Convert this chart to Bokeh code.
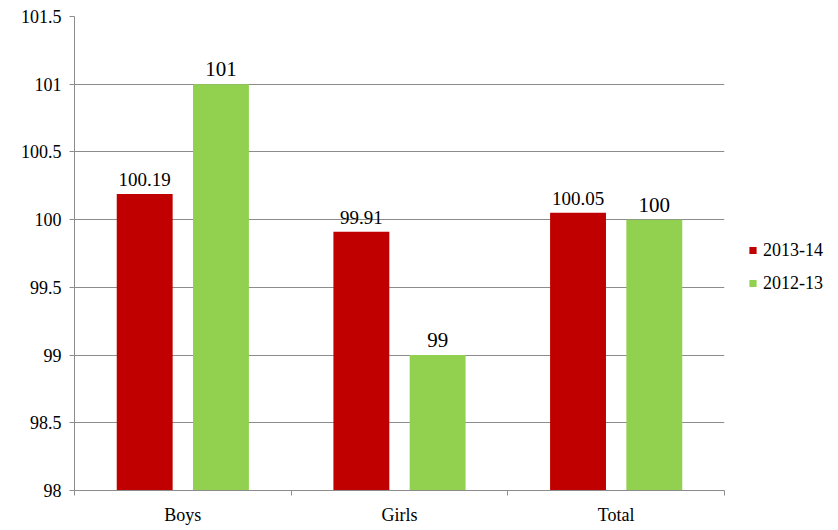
from bokeh.plotting import figure
from bokeh.models import ColumnDataSource, Range1d, FixedTicker, Legend, LegendItem
from bokeh.core.properties import value
from bokeh.embed import file_html
from bokeh.resources import INLINE

categories = ["Boys", "Girls", "Total"]
series_2013_14 = [100.19, 99.91, 100.05]
series_2012_13 = [101, 99, 100]
labels_2013_14 = ["100.19", "99.91", "100.05"]
labels_2012_13 = ["101", "99", "100"]
y_ticks = [98, 98.5, 99, 99.5, 100, 100.5, 101, 101.5]
y_tick_labels = ["98", "98.5", "99", "99.5", "100", "100.5", "101", "101.5"]

FONT = "Times New Roman, Liberation Serif, serif"
RED = "#C00000"
GREEN = "#92D050"
GRID = "#8c8c8c"

off = 0.176
bw = 0.258
idx = list(range(len(categories)))
src_a = ColumnDataSource(dict(x=[i + 0.5 - off for i in idx], top=series_2013_14, lab=labels_2013_14))
src_b = ColumnDataSource(dict(x=[i + 0.5 + off for i in idx], top=series_2012_13, lab=labels_2012_13))

p = figure(frame_width=650, frame_height=474, output_backend="svg", toolbar_location=None,
           x_range=Range1d(0, len(categories)), y_range=Range1d(98, 101.5),
           min_border_left=74, min_border_top=16, min_border_bottom=40, min_border_right=100)
p.outline_line_color = None
p.background_fill_color = "white"
p.border_fill_color = "white"

r_a = p.vbar(x="x", top="top", bottom=98, width=bw, source=src_a, fill_color=RED, line_color=None)
r_b = p.vbar(x="x", top="top", bottom=98, width=bw, source=src_b, fill_color=GREEN, line_color=None)

p.text(x="x", y="top", text="lab", source=src_a, y_offset=-8, text_align="center",
       text_baseline="bottom", text_font=value(FONT), text_font_size="19px", text_color="black")
p.text(x="x", y="top", text="lab", source=src_b, y_offset=-8, text_align="center",
       text_baseline="bottom", text_font=value(FONT), text_font_size="21px", text_color="black")

# x axis
p.xaxis.ticker = FixedTicker(ticks=[i + 0.5 for i in idx], minor_ticks=[i for i in range(len(categories) + 1)])
p.xaxis.major_label_overrides = {i + 0.5: c for i, c in zip(idx, categories)}
p.xaxis.major_tick_line_color = None
p.xaxis.minor_tick_line_color = GRID
p.xaxis.minor_tick_out = 5
p.xaxis.minor_tick_in = 0
p.xaxis.axis_line_color = GRID
p.xaxis.major_label_text_font = FONT
p.xaxis.major_label_text_font_size = "18px"
p.xaxis.major_label_text_color = "black"
p.xaxis.major_label_standoff = 8

# y axis
p.yaxis.ticker = FixedTicker(ticks=y_ticks, minor_ticks=[])
p.yaxis.major_label_overrides = {t: l for t, l in zip(y_ticks, y_tick_labels)}
p.yaxis.major_tick_line_color = GRID
p.yaxis.major_tick_out = 5
p.yaxis.major_tick_in = 0
p.yaxis.minor_tick_line_color = None
p.yaxis.axis_line_color = GRID
p.yaxis.major_label_text_font = FONT
p.yaxis.major_label_text_font_size = "18px"
p.yaxis.major_label_text_color = "black"
p.yaxis.major_label_standoff = 8

p.xgrid.grid_line_color = None
p.ygrid.grid_line_color = GRID
p.ygrid.grid_line_width = 1

legend = Legend(items=[LegendItem(label="2013-14", renderers=[r_a]),
                       LegendItem(label="2012-13", renderers=[r_b])],
                location="center_left", orientation="vertical", border_line_color=None,
                background_fill_alpha=0, label_text_font=FONT, label_text_font_size="18px",
                label_text_color="black", title=" ", title_text_font_size="10px", title_standoff=16,
                glyph_width=9, glyph_height=9, label_standoff=6, spacing=12, padding=0,
                margin=24, label_height=20)
p.add_layout(legend, "right")

open("out.html", "w").write(file_html(p, INLINE))
